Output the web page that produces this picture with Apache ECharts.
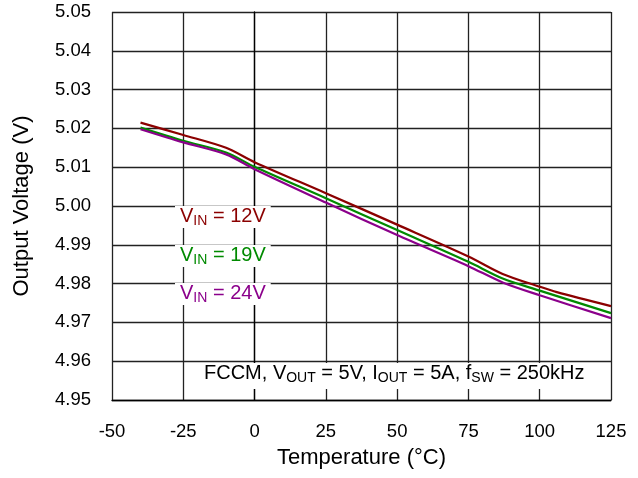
<!DOCTYPE html>
<html>
<head>
<meta charset="utf-8">
<script src="https://cdn.jsdelivr.net/npm/echarts@6/dist/echarts.min.js"></script>
<style>html,body{margin:0;padding:0;background:#fff}#c{width:638px;height:478px}</style>
</head>
<body>
<div id="c"></div>
<script>
const temps12 = [-40, -25, -10, 0, 25, 50, 75, 87, 100, 106, 125];
const vin12 = [5.0215, 5.0183, 5.0150, 5.0113, 5.0033, 4.9952, 4.9870, 4.9825, 4.9792, 4.9778, 4.9742];
const temps19 = [-40, -25, -10, 0, 25, 50, 75, 87, 100, 125];
const vin19 = [5.0202, 5.0168, 5.0138, 5.0101, 5.0020, 4.9938, 4.9856, 4.9813, 4.9782, 4.9724];
const temps24 = [-40, -25, -10, 0, 25, 50, 75, 87, 100, 125];
const vin24 = [5.0198, 5.0164, 5.0133, 5.0095, 5.0009, 4.9925, 4.9845, 4.9803, 4.9770, 4.9711];
const xTicks = [-50, -25, 0, 25, 50, 75, 100, 125];
const yTicks = [4.95, 4.96, 4.97, 4.98, 4.99, 5.00, 5.01, 5.02, 5.03, 5.04, 5.05];

const FONT = 'Liberation Sans';
const chart = echarts.init(document.getElementById('c'));
const pair = (xs, ys) => xs.map((x, i) => [x, ys[i]]);
const gridLine = {show: true, lineStyle: {color: '#222', width: 1.3}};
function richStyles(color) {
  return {
    m: {fontFamily: FONT, fontSize: 20, fontWeight: 'normal', color: color, lineHeight: 24},
    s: {fontFamily: FONT, fontSize: 14, fontWeight: 'normal', color: color, lineHeight: 24, verticalAlign: 'bottom', padding: [7, 0, 0, 0]}
  };
}
function labelTitle(color, rest, top) {
  return {
    left: 175, top: top,
    text: '{m|V}{s|IN}{m|' + rest + '}',
    backgroundColor: '#fff',
    padding: [0, 5, 0, 5],
    textStyle: {fontWeight: 'normal', rich: richStyles(color)}
  };
}
chart.setOption({
  animation: false,
  grid: {left: 112, top: 12, right: 27, bottom: 78},
  title: [
    labelTitle('#8b0000', ' = 12V', 204),
    labelTitle('#008a00', ' = 19V', 243),
    labelTitle('#8b008b', ' = 24V', 281),
    {
      left: 193, top: 361,
      text: '{m|FCCM, V}{s|OUT}{m| = 5V, I}{s|OUT}{m| = 5A, f}{s|SW}{m| = 250kHz}',
      backgroundColor: '#fff',
      padding: [0, 10, 4, 11],
      textStyle: {fontWeight: 'normal', rich: richStyles('#000')}
    }
  ],
  xAxis: {
    type: 'value', min: -50, max: 125, interval: 25,
    name: 'Temperature (°C)', nameLocation: 'middle', nameGap: 47,
    nameTextStyle: {fontFamily: FONT, fontSize: 22, color: '#000'},
    axisLine: {show: true, lineStyle: {color: '#000', width: 1.3}},
    axisTick: {show: false},
    axisLabel: {fontFamily: FONT, fontSize: 18.5, color: '#000', margin: 22},
    splitLine: gridLine
  },
  yAxis: {
    type: 'value', min: 4.95, max: 5.05, interval: 0.01,
    name: 'Output Voltage (V)', nameLocation: 'middle', nameGap: 79,
    nameTextStyle: {fontFamily: FONT, fontSize: 22, color: '#000'},
    axisLine: {show: true, lineStyle: {color: '#000', width: 1.3}},
    axisTick: {show: false},
    axisLabel: {fontFamily: FONT, fontSize: 18.5, color: '#000', margin: 21, formatter: v => v.toFixed(2)},
    splitLine: gridLine
  },
  series: [
    {type: 'line', data: pair(temps12, vin12), smooth: 0.3, showSymbol: false, lineStyle: {color: '#8b0000', width: 2.2}, z: 3},
    {type: 'line', data: pair(temps19, vin19), smooth: 0.3, showSymbol: false, lineStyle: {color: '#008a00', width: 2.2}, z: 3},
    {type: 'line', data: pair(temps24, vin24), smooth: 0.3, showSymbol: false, lineStyle: {color: '#8b008b', width: 2.2}, z: 3}
  ]
});
</script>
</body>
</html>
